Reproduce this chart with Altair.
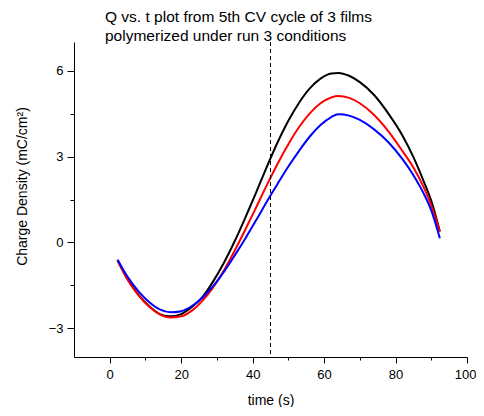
import altair as alt
import pandas as pd

t = [2.2, 5, 8, 11, 14, 17, 20, 23, 26, 29, 32, 35, 38, 41, 44, 47, 50, 53, 56, 59,
     62, 64, 67, 70, 74, 78, 82, 85, 88, 90, 92.4]
black = [-0.62, -1.28, -1.82, -2.22, -2.50, -2.58, -2.50, -2.25, -1.90, -1.35, -0.70, 0.05,
         0.88, 1.75, 2.65, 3.5, 4.25, 4.88, 5.38, 5.72, 5.9, 5.92, 5.82, 5.6, 5.15, 4.5,
         3.72, 2.98, 2.1, 1.45, 0.38]
red = [-0.64, -1.30, -1.84, -2.24, -2.51, -2.62, -2.58, -2.38, -2.03, -1.56, -0.97, -0.28,
       0.46, 1.23, 2.01, 2.75, 3.43, 4.03, 4.51, 4.86, 5.06, 5.11, 5.05, 4.86, 4.45, 3.88,
       3.18, 2.62, 1.9, 1.3, 0.38]
blue = [-0.60, -1.20, -1.70, -2.08, -2.34, -2.44, -2.40, -2.22, -1.92, -1.52, -1.02, -0.45,
        0.15, 0.78, 1.43, 2.05, 2.65, 3.2, 3.7, 4.1, 4.38, 4.48, 4.43, 4.28, 3.95, 3.5,
        2.9, 2.35, 1.68, 1.12, 0.15]
series = ["black", "red", "blue"]
colors = ["#000000", "#ff0000", "#0000ff"]
vline_t = [45]
x_major = [0, 20, 40, 60, 80, 100]
x_minor = [10, 30, 50, 70, 90]
y_major = [-3, 0, 3, 6]
y_minor = [-1.5, 1.5, 4.5]

rows = []
for name, vals in zip(series, [black, red, blue]):
    for ti, v in zip(t, vals):
        rows.append({"t": ti, "q": v, "s": name})
df = pd.DataFrame(rows)

FONT = "Liberation Sans"
xs = alt.Scale(domain=[-10, 100], nice=False, zero=False)
ys = alt.Scale(domain=[-4, 7], nice=False, zero=False)

lines = alt.Chart(df).mark_line(strokeWidth=2, interpolate="monotone").encode(
    x=alt.X("t:Q", scale=xs, axis=alt.Axis(
        title="time (s)", values=x_major, orient="bottom", tickSize=6, labelPadding=5,
        titlePadding=12, labelFlush=True, labelFlushOffset=9, domainColor="black",
        tickColor="black", labelColor="black", titleColor="black", labelFontSize=13,
        titleFontSize=14, labelFont=FONT, titleFont=FONT, titleFontWeight="normal",
        grid=False)),
    y=alt.Y("q:Q", scale=ys, axis=alt.Axis(
        title="Charge Density (mC/cm²)", values=y_major, orient="left", tickSize=7,
        labelPadding=4, titlePadding=19, titleY=144, labelFlush=False,
        domainColor="black", tickColor="black",
        labelColor="black", titleColor="black", labelFontSize=13, titleFontSize=14,
        labelFont=FONT, titleFont=FONT, titleFontWeight="normal", grid=False)),
    color=alt.Color("s:N", scale=alt.Scale(domain=series, range=colors), legend=None),
)

vline = alt.Chart(pd.DataFrame({"t": vline_t})).mark_rule(
    color="black", strokeWidth=1, strokeDash=[4, 3]).encode(
    x=alt.X("t:Q", scale=xs, axis=alt.Axis(
        values=x_minor, orient="bottom", tickSize=3, labels=False, title=None,
        domain=False, tickColor="black", grid=False)),
    y=alt.value(0),
    y2=alt.value(315),
)

yminor = alt.Chart(pd.DataFrame({"q": [0]})).mark_point(opacity=0).encode(
    y=alt.Y("q:Q", scale=ys, axis=alt.Axis(
        values=y_minor, orient="left", tickSize=4, labels=False, title=None,
        domain=False, tickColor="black", grid=False)),
)

chart = alt.layer(lines, vline, yminor).resolve_axis(x="independent", y="independent").properties(
    width=393, height=315,
    title=alt.TitleParams(
        ["Q vs. t plot from 5th CV cycle of 3 films", "polymerized under run 3 conditions"],
        anchor="start", frame="group", dx=31, dy=11, offset=8, fontSize=15.5, font=FONT,
        fontWeight="normal", color="black", lineHeight=19),
    autosize=alt.AutoSizeParams(type="none"),
    padding={"left": 66, "top": 34, "right": 9, "bottom": 50},
).configure_view(stroke=None).configure_axis(domainWidth=1, tickWidth=1)

chart.save("out.html", embed_options={"renderer": "svg", "actions": False})
